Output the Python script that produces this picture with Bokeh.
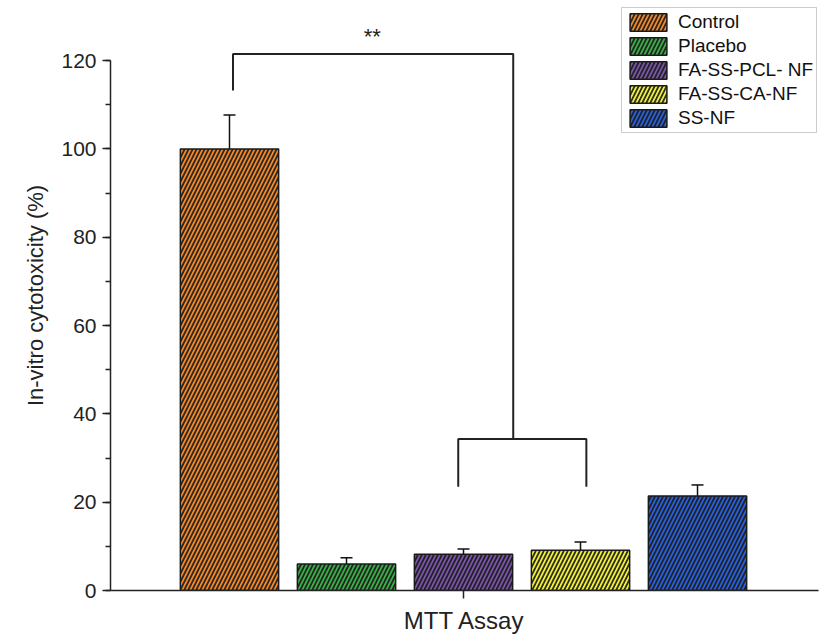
from bokeh.plotting import figure
from bokeh.models import (ColumnDataSource, Range1d, Whisker, TeeHead, FixedTicker,
                          SingleIntervalTicker, Legend, LegendItem, Label)
from bokeh.embed import file_html
from bokeh.resources import INLINE

# ---- data ----
groups = ["Control", "Placebo", "FA-SS-PCL- NF", "FA-SS-CA-NF", "SS-NF"]
means = [100.0, 6.0, 8.2, 9.1, 21.4]
errors = [7.7, 1.4, 1.2, 1.9, 2.5]
colors = ["#F08A2C", "#3DB04A", "#7A56A8", "#F2F23C", "#2B62D9"]
positions = [-2, -1, 0, 1, 2]
category_label = "MTT Assay"
y_label = "In-vitro cytotoxicity (%)"

# significance brackets
big_bracket_x = [-1.97, -1.97, 0.425, 0.425]
big_bracket_y = [113.2, 121.5, 121.5, 34.3]
small_bracket_x = [-0.045, -0.045, 1.05, 1.05]
small_bracket_y = [23.5, 34.3, 34.3, 23.5]
sig_text = "**"
sig_pos = (-0.78, 125.5)

FONT = "Liberation Sans"

src = ColumnDataSource(dict(
    x=positions, top=means, color=colors, name=groups,
    upper=[m + e for m, e in zip(means, errors)],
    lower=[m - e for m, e in zip(means, errors)],
))

p = figure(width=826, height=644, output_backend="svg", toolbar_location=None,
           x_range=Range1d(-3.017, 3.034), y_range=Range1d(0, 133.6),
           min_border_left=110, min_border_right=8, min_border_top=0,
           min_border_bottom=54)
p.outline_line_color = None
p.xgrid.visible = False
p.ygrid.visible = False

bars = p.vbar(x="x", top="top", width=0.84, bottom=0, source=src,
              fill_color="color", line_color="#1a1a1a", line_width=1.5,
              hatch_pattern="right_diagonal_line", hatch_color="#1a1a1a",
              hatch_scale=8, hatch_weight=1.8, hatch_alpha=0.9)

wh = Whisker(base="x", upper="upper", lower="lower", source=src,
             line_color="#111111", line_width=1.5,
             upper_head=TeeHead(size=12, line_color="#111111", line_width=1.5),
             lower_head=TeeHead(size=12, line_color="#111111", line_width=1.5))
p.add_layout(wh)

p.line(big_bracket_x, big_bracket_y, line_color="#222222", line_width=2)
p.line(small_bracket_x, small_bracket_y, line_color="#222222", line_width=2)
p.add_layout(Label(x=sig_pos[0], y=sig_pos[1], text=sig_text, text_font=FONT,
                   text_font_size="22px", text_align="center",
                   text_baseline="middle", text_color="#222222"))

# axes
ya = p.yaxis[0]
ya.ticker = SingleIntervalTicker(interval=20, num_minor_ticks=2)
ya.bounds = (0, 120)
ya.axis_label = y_label
ya.axis_label_text_font = FONT
ya.axis_label_text_font_size = "22px"
ya.axis_label_text_font_style = "normal"
ya.axis_label_text_color = "#222222"
ya.axis_label_standoff = 10
ya.major_label_text_font = FONT
ya.major_label_text_font_size = "21px"
ya.major_label_text_color = "#222222"
ya.major_label_standoff = 6
ya.major_tick_out = 8
ya.major_tick_in = 0
ya.minor_tick_out = 5
ya.minor_tick_in = 0
ya.axis_line_color = "#222222"
ya.axis_line_width = 1.5
ya.major_tick_line_width = 1.5
ya.minor_tick_line_width = 1.5
ya.major_tick_line_color = "#222222"
ya.minor_tick_line_color = "#222222"

xa = p.xaxis[0]
xa.ticker = FixedTicker(ticks=[0])
xa.major_label_overrides = {0: ""}
xa.bounds = (-3.017, 3.034)
xa.axis_label = category_label
xa.axis_label_text_font = FONT
xa.axis_label_text_font_size = "24px"
xa.axis_label_text_font_style = "normal"
xa.axis_label_text_color = "#222222"
xa.axis_label_standoff = 8
xa.major_tick_out = 8
xa.major_tick_in = 0
xa.minor_tick_line_color = None
xa.axis_line_color = "#222222"
xa.axis_line_width = 1.5
xa.major_tick_line_width = 1.5
xa.major_tick_line_color = "#222222"

# legend
items = [LegendItem(label=g, renderers=[bars], index=i) for i, g in enumerate(groups)]
leg = Legend(items=items, location=(511, 457), orientation="vertical",
             label_text_font=FONT, label_text_font_size="19px",
             label_text_color="#111111",
             glyph_width=46, glyph_height=22, spacing=2, padding=3, margin=0,
             label_standoff=7, border_line_color="#999999", border_line_width=1.5,
             background_fill_alpha=1.0, label_height=22)
p.add_layout(leg)

open("out.html", "w").write(file_html(p, INLINE))
